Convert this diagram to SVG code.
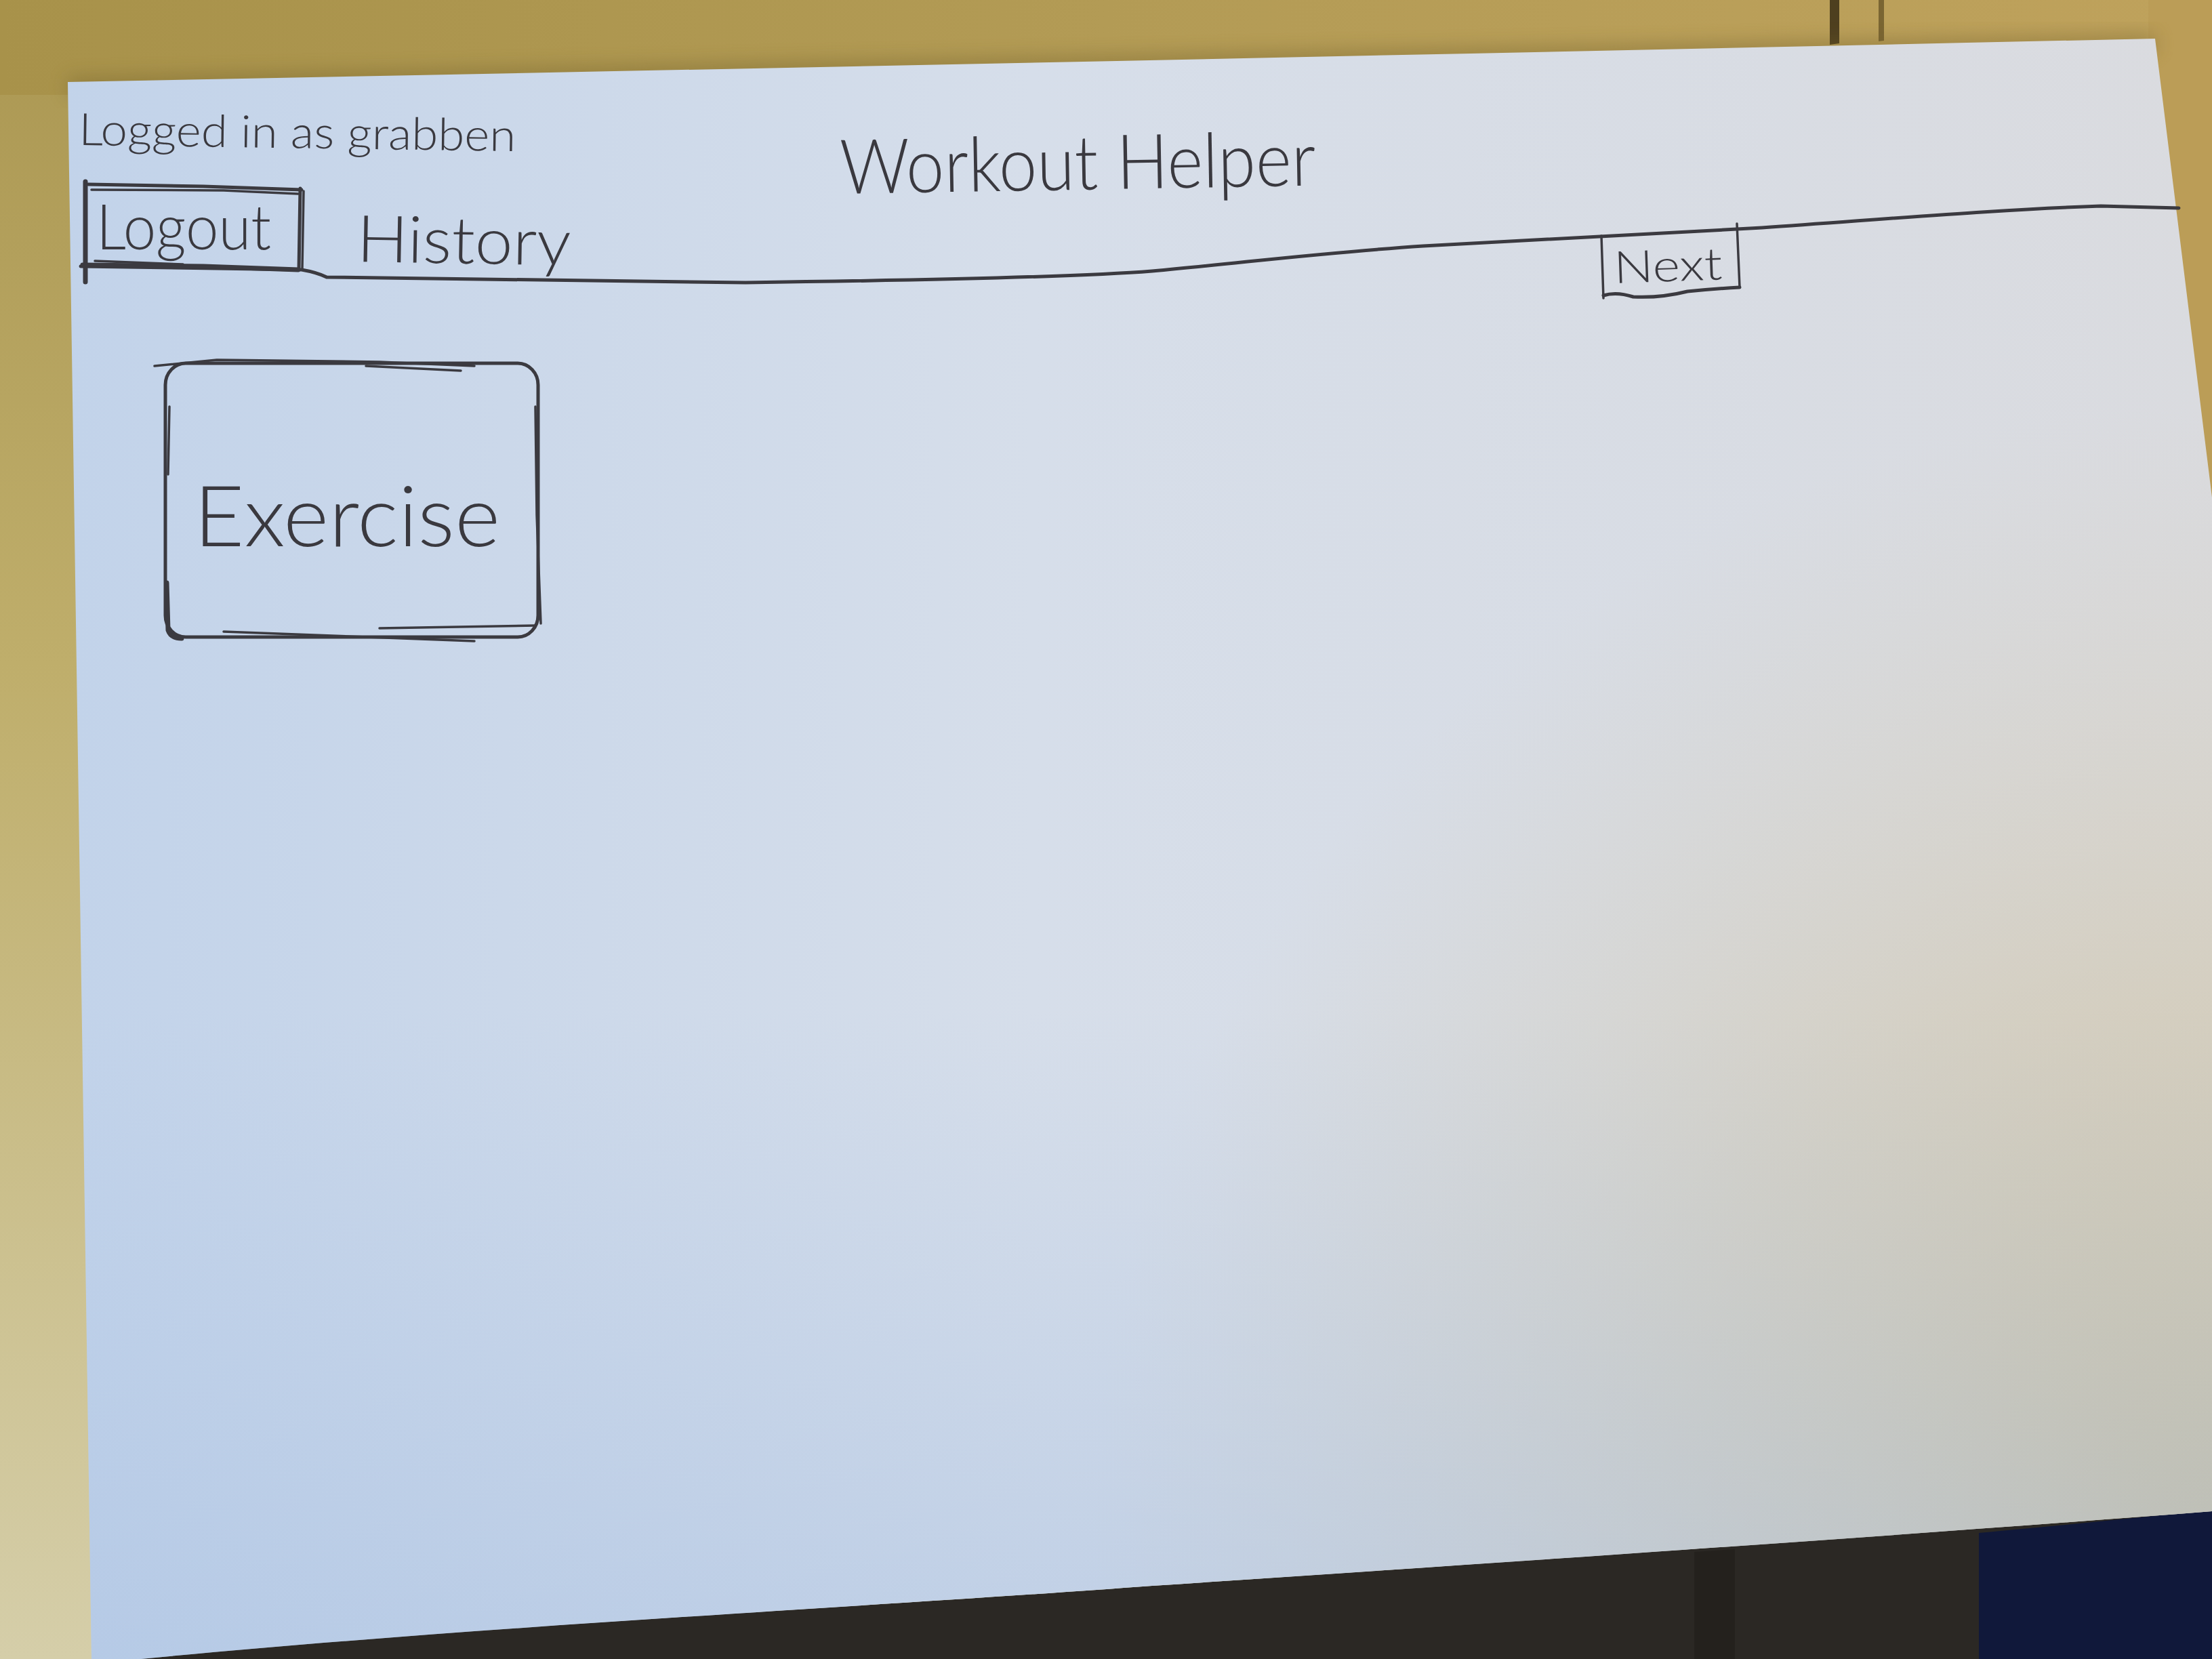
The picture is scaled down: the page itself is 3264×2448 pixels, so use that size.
<svg xmlns="http://www.w3.org/2000/svg" width="3264" height="2448" viewBox="0 0 3264 2448">
  <defs>
    <linearGradient id="bgGrad" x1="0" y1="0" x2="0" y2="1">
      <stop offset="0" stop-color="#ab9752"/>
      <stop offset="0.4" stop-color="#bfae6b"/>
      <stop offset="1" stop-color="#d5cea9"/>
    </linearGradient>
    <linearGradient id="woodTop" x1="0" y1="0" x2="1" y2="0">
      <stop offset="0" stop-color="#a8924a"/>
      <stop offset="0.5" stop-color="#b39b55"/>
      <stop offset="1" stop-color="#bfa25c"/>
    </linearGradient>
    <linearGradient id="paperGrad" x1="0" y1="0" x2="1" y2="0">
      <stop offset="0" stop-color="#c2d3ea"/>
      <stop offset="0.45" stop-color="#d6deea"/>
      <stop offset="1" stop-color="#dadbdf"/>
    </linearGradient>
    <radialGradient id="warm" cx="3264" cy="2250" r="1650" gradientUnits="userSpaceOnUse">
      <stop offset="0" stop-color="#cbbd98" stop-opacity="0.95"/>
      <stop offset="0.5" stop-color="#d0c4a6" stop-opacity="0.5"/>
      <stop offset="1" stop-color="#d4ccb8" stop-opacity="0"/>
    </radialGradient>
    <linearGradient id="coolBottom" x1="0" y1="0" x2="0" y2="1">
      <stop offset="0.6" stop-color="#aac2e3" stop-opacity="0"/>
      <stop offset="1" stop-color="#a9c1e2" stop-opacity="0.5"/>
    </linearGradient>
    <filter id="blur" x="-10%" y="-50%" width="120%" height="200%">
      <feGaussianBlur stdDeviation="14"/>
    </filter>
    <style>
      .ink { fill: none; stroke: #3b3a40; stroke-linecap: round; stroke-linejoin: round; }
      .thin { stroke-width: 3.5; }
      .med { stroke-width: 5; }
      .thick { stroke-width: 7; }
      .hand { font-family: "Lato", "Liberation Sans", "DejaVu Sans", sans-serif; font-weight: 300; fill: #3a393f; }
    </style>
  </defs>

  <!-- background: table and surroundings -->
  <g id="background">
    <rect x="0" y="0" width="3264" height="2448" fill="url(#bgGrad)"/>
    <rect x="0" y="0" width="3264" height="140" fill="url(#woodTop)"/>
    <rect x="3170" y="0" width="94" height="800" fill="#bb9d57"/>
    <path d="M2700,0 L2714,0 L2714,64 L2700,66 Z" fill="#4e3f1f"/>
    <path d="M2772,0 L2780,0 L2780,60 L2772,61 Z" fill="#7a6532"/>
    <path d="M100,128 Q1600,95 3180,64" fill="none" stroke="#6f5e2a" stroke-width="26" opacity="0.45" filter="url(#blur)"/>
    <path d="M150,2448 C700,2400 1300,2370 1700,2340 C2300,2300 2800,2265 3264,2228 L3264,2448 Z" fill="#2b2824"/>
    <path d="M2920,2262 C3050,2250 3150,2240 3264,2228 L3264,2448 L2920,2448 Z" fill="#10183a"/>
    <path d="M2500,2290 L2560,2286 L2560,2448 L2500,2448 Z" fill="#1f1c19" opacity="0.6"/>
  </g>

  <!-- paper sheet -->
  <g id="paper">
    <path id="sheet" d="M100,121 Q1600,92 3180,57 L3264,734 L3264,2230 C2800,2266 2300,2300 1700,2340 C1300,2370 700,2400 208,2448 L135,2448 Z" fill="url(#paperGrad)"/>
    <path d="M100,121 Q1600,92 3180,57 L3264,734 L3264,2230 C2800,2266 2300,2300 1700,2340 C1300,2370 700,2400 208,2448 L135,2448 Z" fill="url(#warm)"/>
    <path d="M100,121 Q1600,92 3180,57 L3264,734 L3264,2230 C2800,2266 2300,2300 1700,2340 C1300,2370 700,2400 208,2448 L135,2448 Z" fill="url(#coolBottom)"/>
  </g>

  <!-- header divider line -->
  <g id="connectors">
    <path class="ink med" d="M119,393 L445,398 Q468,402 482,409 L1100,417 C1400,413 1600,408 1700,400 C1850,386 1950,373 2100,363 C2300,351 2450,343 2600,336 C2800,322 2950,309 3100,304 L3215,307"/>
  </g>

  <!-- header user label -->
  <g id="user-label">
    <text class="hand" x="116" y="214" font-size="66" textLength="645" lengthAdjust="spacingAndGlyphs" transform="rotate(0.8 116 214)">Logged in as grabben</text>
  </g>

  <!-- title -->
  <g id="title">
    <text class="hand" x="1240" y="286" font-size="112" textLength="702" lengthAdjust="spacingAndGlyphs" transform="rotate(-1 1240 286)">Workout Helper</text>
  </g>

  <!-- Logout button -->
  <g id="logout">
    <path class="ink thick" d="M126,268 L126,416"/>
    <path class="ink med" d="M130,272 L300,275 L445,280"/>
    <path class="ink thin" d="M135,280 L330,281 L440,286"/>
    <path class="ink med" d="M443,278 L441,398"/>
    <path class="ink thin" d="M448,282 L446,396"/>
    <path class="ink thick" d="M122,391 L300,393 L440,398"/>
    <path class="ink thin" d="M140,385 L270,390"/>
    <text class="hand" x="142" y="368" font-size="92" textLength="258" lengthAdjust="spacingAndGlyphs">Logout</text>
  </g>

  <!-- History link -->
  <g id="history">
    <text class="hand" x="526" y="386" font-size="96" textLength="316" lengthAdjust="spacingAndGlyphs" transform="rotate(1 526 386)">History</text>
  </g>

  <!-- Next button -->
  <g id="next">
    <path class="ink thin" d="M2363,348 L2366,440"/>
    <path class="ink thin" d="M2563,330 L2567,424"/>
    <path class="ink med" d="M2366,436 Q2385,430 2410,438 Q2450,440 2490,430 Q2530,426 2567,424"/>
    <text class="hand" x="2382" y="418" font-size="66" textLength="160" lengthAdjust="spacingAndGlyphs" transform="rotate(-2 2382 418)">Next</text>
  </g>

  <!-- Exercise box -->
  <g id="exercise">
    <rect class="ink med" x="244" y="536" width="550" height="404" rx="30" ry="32"/>
    <path class="ink thin" d="M228,540 L320,531 L560,534 L700,540"/>
    <path class="ink thin" d="M540,540 L680,547"/>
    <path class="ink thin" d="M790,600 L792,760 L798,920"/>
    <path class="ink thin" d="M250,600 L248,700"/>
    <path class="ink thin" d="M560,927 L790,923"/>
    <path class="ink thin" d="M330,932 L700,946"/>
    <path class="ink thick" d="M246,860 L248,930 Q252,942 268,942"/>
    <text class="hand" x="286" y="806" font-size="124" textLength="452" lengthAdjust="spacingAndGlyphs">Exercise</text>
  </g>
</svg>
